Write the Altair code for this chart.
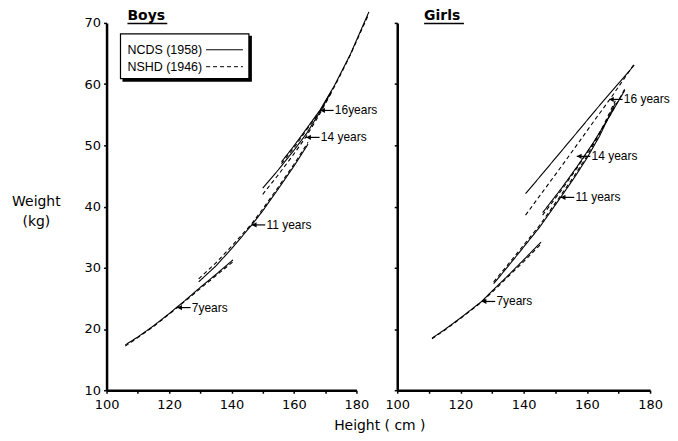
import altair as alt
import pandas as pd

SERIES = ["NCDS (1958)", "NSHD (1946)"]
X_TICKS = [100, 110, 120, 130, 140, 150, 160, 170, 180]
Y_TICKS = [10, 20, 30, 40, 50, 60, 70]

# ---- Boys: weight (kg) against height (cm) at each age ----
boys_7_h = [106, 110, 115, 120, 125, 130, 135, 140.5]
boys_7_ncds = [17.4, 18.7, 20.5, 22.5, 24.6, 26.8, 28.9, 31.3]
boys_7_nshd = [17.2, 18.6, 20.4, 22.4, 24.5, 26.6, 28.7, 31.0]

boys_11_h = [129.5, 135, 140, 146.5, 150, 155, 160, 164.5]
boys_11_ncds = [27.7, 30.3, 33.1, 37.0, 39.3, 42.9, 46.6, 50.2]
boys_11_nshd = [28.2, 30.8, 33.5, 37.2, 39.6, 43.2, 46.9, 50.5]

boys_14_h = [150, 155, 160, 164, 168, 172]
boys_14_ncds = [43.0, 46.0, 49.2, 51.9, 55.2, 58.8]
boys_14_nshd = [42.0, 45.2, 48.6, 51.5, 54.9, 58.6]

boys_16_h = [156, 160, 164, 168.4, 173, 178, 184]
boys_16_ncds = [47.3, 49.9, 52.7, 55.8, 59.8, 64.8, 71.8]
boys_16_nshd = [47.0, 49.6, 52.5, 55.6, 59.6, 64.7, 71.5]

# ---- Girls ----
girls_7_h = [111, 115, 120, 126.7, 130, 135, 140, 145.5]
girls_7_ncds = [18.5, 19.9, 21.8, 24.5, 26.2, 28.7, 31.3, 34.2]
girls_7_nshd = [18.4, 19.8, 21.7, 24.4, 26.0, 28.5, 31.0, 33.9]

girls_11_h = [130.5, 135, 140, 145, 151.7, 156, 160, 164, 169]
girls_11_ncds = [27.4, 30.2, 33.4, 36.6, 41.5, 44.7, 47.9, 51.5, 56.9]
girls_11_nshd = [27.7, 30.5, 33.7, 36.9, 41.8, 45.0, 48.2, 51.9, 57.3]

girls_14_h = [146, 152, 157, 162, 167, 172]
girls_14_ncds = [39.0, 43.0, 46.6, 50.4, 54.6, 59.0]
girls_14_nshd = [38.6, 42.7, 46.4, 50.3, 54.6, 59.2]

girls_16_h = [140.6, 146, 152, 158, 163, 167.8, 175]
girls_16_ncds = [42.1, 45.4, 49.1, 52.8, 55.9, 58.8, 63.1]
girls_16_nshd = [38.6, 42.4, 46.6, 50.9, 54.5, 57.9, 63.3]

# ---- age labels (arrow tips) ----
boys_ann_label = ["7years", "11 years", "14 years", "16years"]
boys_ann_h = [122.6, 146.5, 163.9, 168.4]
boys_ann_w = [23.5, 37.0, 51.3, 55.7]

girls_ann_label = ["7years", "11 years", "14 years", "16 years"]
girls_ann_h = [126.7, 151.7, 156.8, 167.0]
girls_ann_w = [24.5, 41.5, 48.2, 57.5]

AXIS_FONT = "DejaVu Sans"
ANN_FONT = "Liberation Sans"


def curve_frame(curves):
    rows = []
    for age, hs, ncds, nshd in curves:
        for s, ws in zip(SERIES, (ncds, nshd)):
            for h, w in zip(hs, ws):
                rows.append({"age": age, "series": s, "h": h, "w": w})
    return pd.DataFrame(rows)


one = pd.DataFrame({"k": [0]})


def panel(title, title_dx, curves, labels, ah, aw, is_left, width):
    df = curve_frame(curves)
    xscale = alt.Scale(domain=[100, 180], nice=False, zero=False)
    yscale = alt.Scale(domain=[10, 70], nice=False, zero=False)
    lab_expr = "datum.value % 20 == 0 ? datum.label : ''"
    if is_left:
        xaxis = alt.Axis(values=X_TICKS, labelExpr=lab_expr, title="Height  ( cm )",
                         titleX=274, titleY=35, titleAlign="center", titleBaseline="middle")
        yaxis = alt.Axis(values=Y_TICKS, title=["Weight", "(kg)"], titleAngle=0,
                         titleX=-71, titleY=179, titleAlign="center",
                         titleBaseline="middle", titleLineHeight=21)
    else:
        xaxis = alt.Axis(values=X_TICKS, labelExpr=lab_expr, title=None)
        yaxis = alt.Axis(values=Y_TICKS, labels=False, title=None)

    X = lambda f: alt.X(f, scale=xscale, axis=xaxis)
    Y = lambda f: alt.Y(f, scale=yscale, axis=yaxis)

    lines = alt.Chart(df).mark_line(color="black", strokeWidth=1.1, clip=False).encode(
        x=X("h:Q"),
        y=Y("w:Q"),
        strokeDash=alt.StrokeDash("series:N", scale=alt.Scale(domain=SERIES, range=[[1, 0], [4, 3]]), legend=None),
        detail="age:N",
        order="h:Q",
    )

    ann = pd.DataFrame({"label": labels, "h": ah, "w": aw})
    base = alt.Chart(ann).transform_calculate(h2="datum.h + 4.3", ht="datum.h + 4.7")
    arrow = base.mark_rule(color="black", strokeWidth=1.2).encode(x=X("h:Q"), x2="h2:Q", y=Y("w:Q"))
    head = base.mark_point(shape="triangle-left", filled=True, color="black", size=28,
                           opacity=1, xOffset=2.5).encode(x=X("h:Q"), y=Y("w:Q"))
    text = base.mark_text(align="left", baseline="middle", font=ANN_FONT, fontSize=12,
                          color="black").encode(x=X("ht:Q"), y=Y("w:Q"), text="label:N")

    ttl = alt.Chart(one).mark_text(align="left", baseline="alphabetic", font=AXIS_FONT,
                                   fontSize=14, fontWeight="bold", color="black").encode(
        x=alt.value(title_dx), y=alt.value(-3), text=alt.value(title))
    underline = alt.Chart(one).mark_rule(color="black", strokeWidth=1.5).encode(
        x=alt.value(title_dx), x2=alt.value(title_dx + 40), y=alt.value(0.5))

    layers = [lines, arrow, head, text, ttl, underline]

    if is_left:
        shadow = alt.Chart(one).mark_rect(color="black").encode(
            x=alt.value(16), x2=alt.value(146), y=alt.value(13), y2=alt.value(59))
        box = alt.Chart(one).mark_rect(fill="white", stroke="black", strokeWidth=1.2).encode(
            x=alt.value(14), x2=alt.value(143), y=alt.value(11), y2=alt.value(56))
        t1 = alt.Chart(one).mark_text(align="left", baseline="middle", font=ANN_FONT,
                                      fontSize=12.5, color="black").encode(
            x=alt.value(21), y=alt.value(27), text=alt.value(SERIES[0]))
        t2 = alt.Chart(one).mark_text(align="left", baseline="middle", font=ANN_FONT,
                                      fontSize=12.5, color="black").encode(
            x=alt.value(21), y=alt.value(44), text=alt.value(SERIES[1]))
        r1 = alt.Chart(one).mark_rule(color="black", strokeWidth=1).encode(
            x=alt.value(100), x2=alt.value(137), y=alt.value(27))
        r2 = alt.Chart(one).mark_rule(color="black", strokeWidth=1, strokeDash=[4, 3]).encode(
            x=alt.value(100), x2=alt.value(137), y=alt.value(44))
        layers += [shadow, box, t1, t2, r1, r2]

    return alt.layer(*layers).properties(width=width, height=369)


boys_curves = [
    ("7", boys_7_h, boys_7_ncds, boys_7_nshd),
    ("11", boys_11_h, boys_11_ncds, boys_11_nshd),
    ("14", boys_14_h, boys_14_ncds, boys_14_nshd),
    ("16", boys_16_h, boys_16_ncds, boys_16_nshd),
]
girls_curves = [
    ("7", girls_7_h, girls_7_ncds, girls_7_nshd),
    ("11", girls_11_h, girls_11_ncds, girls_11_nshd),
    ("14", girls_14_h, girls_14_ncds, girls_14_nshd),
    ("16", girls_16_h, girls_16_ncds, girls_16_nshd),
]

boys = panel("Boys", 21, boys_curves, boys_ann_label, boys_ann_h, boys_ann_w, True, 251)
girls = panel("Girls", 27, girls_curves, girls_ann_label, girls_ann_h, girls_ann_w, False, 254)

chart = alt.hconcat(boys, girls, spacing=41, bounds="flush").properties(
    padding={"left": 3, "top": 0, "right": 0, "bottom": 0}
).configure_view(stroke=None).configure_axis(
    grid=False,
    domainColor="black", domainWidth=2.5,
    tickColor="black", tickWidth=1.5, tickSize=3,
    labelColor="black", labelFont=AXIS_FONT, labelFontSize=13, labelPadding=3,
    labelFlush=False,
    titleColor="black", titleFont=AXIS_FONT, titleFontSize=14, titleFontWeight="normal",
).configure_axisX(labelPadding=5)

chart.save("out.html", embed_options={"renderer": "svg", "actions": False})
